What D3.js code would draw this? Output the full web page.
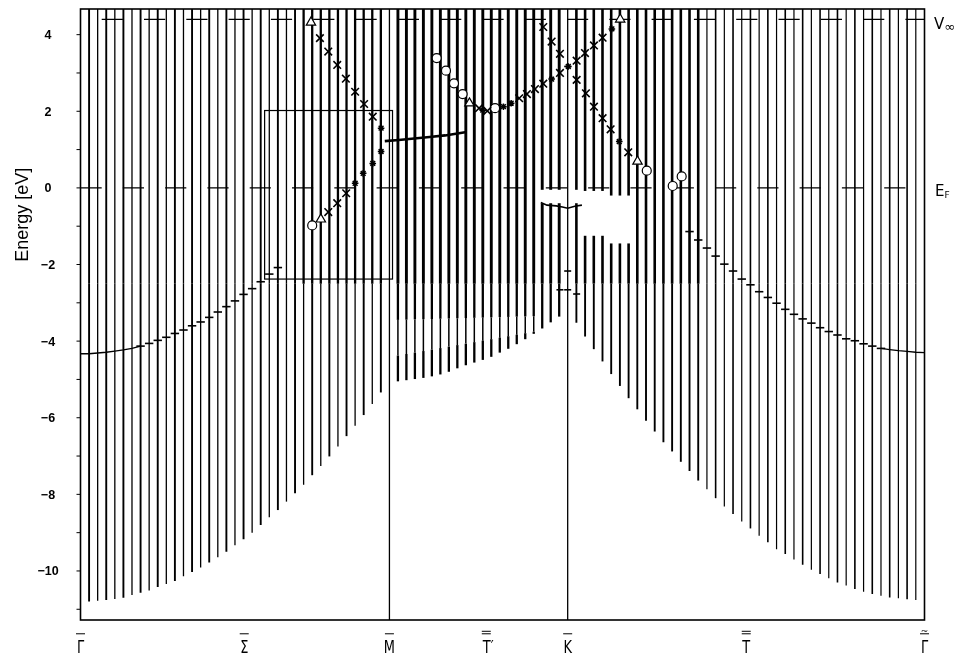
<!DOCTYPE html>
<html><head><meta charset="utf-8">
<script src="https://cdn.jsdelivr.net/npm/d3@7"></script>
<style>body{margin:0;background:#fff}svg{display:block;filter:grayscale(100%)}text{fill:#000}</style>
</head><body><svg id="c" width="969" height="658"></svg>
<script>
// ---------------- data ----------------
const yTicks = [4, 2, 0, -2, -4, -6, -8, -10];
const pathLabels = ["Γ", "Σ", "M", "T′", "K", "T", "Γ"];
const pathLabelK = [0, 0.53, 1, 1.32, 1.577, 2.155, 2.732];
const labelBars = [1, 1, 1, 2, 1, 2, 1];
const labelTilde = [0, 0, 0, 0, 0, 0, 1];
const segEnds = [0, 1, 1.577, 2.732];           // Γ, M, K, Γ~ along path
const EF = 0, Vinf = 4.4;

// lower edge of projected bulk bands at interior k-points of each segment
const bottomGM = [-10.80,-10.78,-10.76,-10.73,-10.70,-10.63,-10.57,-10.51,-10.42,-10.34,-10.26,-10.14,-10.03,-9.91,-9.78,-9.64,-9.50,-9.33,-9.17,-9.00,-8.80,-8.60,-8.41,-8.19,-7.97,-7.75,-7.50,-7.26,-7.01,-6.75,-6.48,-6.21,-5.93,-5.64,-5.34];
const bottomMK = [-5.05,-5.02,-4.99,-4.96,-4.92,-4.87,-4.80,-4.71,-4.63,-4.56,-4.49,-4.41,-4.30,-4.20,-4.08,-3.95,-3.81,-3.67,-3.51,-3.36];
const bottomKG = [-3.52,-3.88,-4.21,-4.53,-4.86,-5.17,-5.49,-5.78,-6.08,-6.36,-6.64,-6.88,-7.15,-7.39,-7.64,-7.87,-8.10,-8.32,-8.51,-8.71,-8.89,-9.08,-9.25,-9.43,-9.56,-9.70,-9.84,-9.97,-10.08,-10.19,-10.30,-10.38,-10.47,-10.54,-10.60,-10.65,-10.69,-10.71,-10.74,-10.76];

// band gaps inside the projected continuum: [k0, k1, Elow@k0, Ehigh@k0, Elow@k1, Ehigh@k1]
const gaps = [
  [1.63, 1.70, -1.25, -0.08, -1.25, -0.08],
  [1.70, 1.80, -1.45, -0.20, -1.45, -0.20],
  [1.49, 1.57, -0.40, -0.05, -0.40, -0.05],
  [1.585, 1.625, -0.40, -0.05, -0.40, -0.05]
];
// low-density zones (single thin band only)
const sparse = [
  [1.01, 1.47, -4.40, -3.45, -3.75, -3.35]
];

// calculated surface states (Γ-M side, index along Γ-M k-points)
const ssLeftIdx = [0,1,2,3,4,5,6,7,8,9,10,11,12,13,14,15,16,17,18,19,20,21,22,23];
const ssLeftE   = [-4.33,-4.33,-4.31,-4.29,-4.26,-4.23,-4.19,-4.13,-4.06,-3.98,-3.90,-3.80,-3.71,-3.60,-3.50,-3.38,-3.24,-3.10,-2.95,-2.78,-2.63,-2.45,-2.25,-2.08];
// K-Γ side (index along K-Γ k-points, 41 = Γ~)
const ssRightIdx = [14,15,16,17,18,19,20,21,22,23,24,25,26,27,28,29,30,31,32,33,34,35,36,37,38,39,40,41];
const ssRightE   = [-1.14,-1.36,-1.57,-1.78,-1.99,-2.17,-2.38,-2.53,-2.71,-2.86,-3.01,-3.17,-3.30,-3.42,-3.53,-3.65,-3.75,-3.84,-3.94,-3.99,-4.07,-4.13,-4.19,-4.22,-4.25,-4.27,-4.29,-4.30];
// unoccupied state near M
const ssMK = [0.985, 1.03, 1.08, 1.13, 1.18, 1.22, 1.25];
const ssME = [1.22, 1.25, 1.29, 1.33, 1.37, 1.42, 1.46];
// occupied state near K
const ssKK = [1.49, 1.51, 1.54, 1.56, 1.577, 1.60, 1.623];
const ssKE = [-0.38, -0.45, -0.47, -0.50, -0.53, -0.48, -0.45];
// isolated state marks near K
const markK = [1.552, 1.577, 1.577, 1.606, 1.577];
const markE = [-2.66, -2.66, -2.17, -2.77, 3.17];

// experimental points
const triK = [0.746, 0.778, 1.259, 1.747, 1.803];
const triE = [4.32, -0.82, 2.21, 4.40, 0.69];
const crossK = [0.775, 0.802, 0.831, 0.859, 0.889, 0.918, 0.946, 0.860, 0.831, 0.802,
                1.290, 1.317, 1.420, 1.445, 1.471, 1.498, 1.552, 1.606, 1.633, 1.662, 1.690,
                1.498, 1.525, 1.552, 1.606, 1.636, 1.662, 1.690, 1.716, 1.773];
const crossE = [3.91, 3.56, 3.21, 2.85, 2.51, 2.19, 1.86, -0.14, -0.40, -0.63,
                2.08, 2.01, 2.34, 2.45, 2.58, 2.72, 3.00, 3.32, 3.52, 3.72, 3.92,
                4.20, 3.82, 3.50, 2.82, 2.47, 2.12, 1.82, 1.53, 0.93];
const starK = [0.973, 0.973, 0.946, 0.915, 0.889, 1.302, 1.369, 1.394, 1.525, 1.579, 1.720, 1.744];
const starE = [1.56, 0.95, 0.64, 0.38, 0.12, 2.03, 2.12, 2.21, 2.84, 3.17, 4.15, 1.21];
const circK = [0.750, 1.153, 1.183, 1.209, 1.237, 1.342, 1.833, 1.917, 1.946];
const circE = [-0.98, 3.39, 3.06, 2.73, 2.45, 2.08, 0.45, 0.05, 0.30];

// inset box (k, E)
const boxK = [0.596, 1.010];
const boxE = [-2.38, 2.02];

// ---------------- drawing ----------------
const svg = d3.select("#c");
const x = d3.scaleLinear().domain([0, 2.732]).range([80.5, 924.5]);
const y = d3.scaleLinear().domain([4.67, -11.28]).range([9, 620]);
const yTop = 4.67, yBot = -11.28;

const kpts = [];
[[bottomGM, 0], [bottomMK, 1], [bottomKG, 2]].forEach(([arr, s]) => {
  const a = segEnds[s], b = segEnds[s + 1], n = arr.length + 1;
  arr.forEach((e, i) => kpts.push({k: a + (i + 1) * (b - a) / n, lo: e, seg: s, i: i + 1}));
});
function kOf(seg, idx) {
  const arr = [bottomGM, bottomMK, bottomKG][seg];
  return segEnds[seg] + idx * (segEnds[seg + 1] - segEnds[seg]) / (arr.length + 1);
}
function widthFor(p, upper) {
  if (p.seg === 0) {
    if (p.k > 0.72 && upper) return 2.3;
    return p.i % 2 ? 1.9 : 1.3;
  }
  if (p.seg === 1) return upper ? 2.9 : 2.3;
  if (p.k < 2.0) return upper ? 2.6 : 1.9;
  return p.i % 2 ? 1.6 : 1.2;
}
function zoneAt(z, k) {
  const [k0, k1, a0, b0, a1, b1] = z;
  if (k < k0 || k > k1) return null;
  const f = (k - k0) / (k1 - k0);
  return [a0 + f * (a1 - a0), b0 + f * (b1 - b0)];
}
function splitBy(cuts, e0, e1, tag) {
  const nc = [];
  cuts.forEach(([a, b, t]) => {
    if (e1 <= a || e0 >= b) { nc.push([a, b, t]); return; }
    if (e0 > a) nc.push([a, e0, t]);
    if (tag) nc.push([Math.max(a, e0), Math.min(b, e1), tag]);
    if (e1 < b) nc.push([e1, b, t]);
  });
  return nc;
}

const g = svg.append("g");
kpts.forEach(p => {
  let cuts = p.lo >= -2.5 ? [[p.lo, yTop, "up"]] : [[p.lo, -2.5, "lo"], [-2.5, yTop, "up"]];
  gaps.forEach(z => { const r = zoneAt(z, p.k); if (r) cuts = splitBy(cuts, r[0], r[1], null); });
  sparse.forEach(z => { const r = zoneAt(z, p.k); if (r) cuts = splitBy(cuts, r[0], r[1], "thin"); });
  cuts.forEach(([a, b, t]) => {
    g.append("line").attr("x1", x(p.k)).attr("x2", x(p.k))
      .attr("y1", y(a)).attr("y2", y(b))
      .attr("stroke", "#000").attr("stroke-width", t === "thin" ? 1.5 : widthFor(p, t === "up"));
  });
});

[segEnds[1], segEnds[2]].forEach(k => {
  svg.append("line").attr("x1", x(k)).attr("x2", x(k)).attr("y1", y(yTop)).attr("y2", y(yBot))
    .attr("stroke", "#000").attr("stroke-width", 1.3);
});

svg.append("line").attr("x1", x(0)).attr("x2", x(2.732)).attr("y1", y(EF)).attr("y2", y(EF))
  .attr("stroke", "#000").attr("stroke-width", 1.1).attr("stroke-dasharray", "21.2,21.1");
svg.append("line").attr("x1", x(0)).attr("x2", x(2.732)).attr("y1", y(Vinf)).attr("y2", y(Vinf))
  .attr("stroke", "#000").attr("stroke-width", 1.4).attr("stroke-dasharray", "21.2,21.1")
  .attr("stroke-dashoffset", -21.2);

const ssL = ssLeftIdx.map((ix, j) => ({k: kOf(0, ix), e: ssLeftE[j], ix}));
const ssR = ssRightIdx.map((ix, j) => ({k: kOf(2, ix), e: ssRightE[j], ix}));
const lineGen = d3.line().x(d => x(d.k)).y(d => y(d.e));
svg.append("path").datum(ssL.filter(d => d.ix <= 7)).attr("d", lineGen)
  .attr("fill", "none").attr("stroke", "#000").attr("stroke-width", 1.3);
svg.append("path").datum(ssR.filter(d => d.ix >= 36)).attr("d", lineGen)
  .attr("fill", "none").attr("stroke", "#000").attr("stroke-width", 1.3);
[...ssL.filter(d => d.ix >= 7), ...ssR.filter(d => d.ix <= 36)].forEach(d => {
  svg.append("line").attr("x1", x(d.k) - 4.2).attr("x2", x(d.k) + 4.2)
    .attr("y1", y(d.e)).attr("y2", y(d.e)).attr("stroke", "#000").attr("stroke-width", 1.6);
});
svg.append("path").datum(ssMK.map((k, j) => ({k, e: ssME[j]}))).attr("d", lineGen)
  .attr("fill", "none").attr("stroke", "#000").attr("stroke-width", 2.6);
svg.append("path").datum(ssKK.map((k, j) => ({k, e: ssKE[j]}))).attr("d", lineGen)
  .attr("fill", "none").attr("stroke", "#000").attr("stroke-width", 1.6);
markK.forEach((k, j) => {
  svg.append("line").attr("x1", x(k) - 3.5).attr("x2", x(k) + 3.5)
    .attr("y1", y(markE[j])).attr("y2", y(markE[j])).attr("stroke", "#000").attr("stroke-width", 1.6);
});

svg.append("rect").attr("x", x(boxK[0])).attr("y", y(boxE[1]))
  .attr("width", x(boxK[1]) - x(boxK[0])).attr("height", y(boxE[0]) - y(boxE[1]))
  .attr("fill", "none").attr("stroke", "#000").attr("stroke-width", 1.2);

const mk = svg.append("g");
triK.forEach((k, j) => {
  mk.append("path").attr("d", d3.symbol().type(d3.symbolTriangle).size(38)())
    .attr("transform", `translate(${x(k)},${y(triE[j])})`)
    .attr("fill", "#fff").attr("stroke", "#000").attr("stroke-width", 1.2);
});
circK.forEach((k, j) => {
  mk.append("circle").attr("cx", x(k)).attr("cy", y(circE[j])).attr("r", 4.5)
    .attr("fill", "#fff").attr("stroke", "#000").attr("stroke-width", 1.2);
});
crossK.forEach((k, j) => {
  const cx = x(k), cy = y(crossE[j]), s = 3.8;
  mk.append("path").attr("d", `M${cx - s},${cy - s}L${cx + s},${cy + s}M${cx - s},${cy + s}L${cx + s},${cy - s}`)
    .attr("stroke", "#000").attr("stroke-width", 1.6).attr("fill", "none");
});
starK.forEach((k, j) => {
  const cx = x(k), cy = y(starE[j]), s = 3.3, t = 2.4;
  mk.append("path").attr("d", `M${cx},${cy - s}L${cx},${cy + s}M${cx - s},${cy}L${cx + s},${cy}M${cx - t},${cy - t}L${cx + t},${cy + t}M${cx - t},${cy + t}L${cx + t},${cy - t}`)
    .attr("stroke", "#000").attr("stroke-width", 1.5).attr("fill", "none");
});

svg.append("rect").attr("x", x(0)).attr("y", y(yTop)).attr("width", x(2.732) - x(0))
  .attr("height", y(yBot) - y(yTop)).attr("fill", "none").attr("stroke", "#000").attr("stroke-width", 1.6);

d3.range(-11, 5).forEach(v => {
  svg.append("line").attr("x1", x(0) - 4).attr("x2", x(0)).attr("y1", y(v)).attr("y2", y(v))
    .attr("stroke", "#000").attr("stroke-width", 1);
});
yTicks.forEach(v => {
  svg.append("text").attr("x", 48).attr("y", y(v)).attr("dy", "0.36em")
    .attr("text-anchor", "middle").attr("font-family", "Liberation Sans, Arial, sans-serif")
    .attr("font-size", 12.5).attr("font-weight", "bold").attr("fill", "#000").text(v < 0 ? "\u2212" + (-v) : v);
});
svg.append("text").attr("transform", `translate(28,${y(-0.7)}) rotate(-90)`)
  .attr("text-anchor", "middle").attr("font-family", "Liberation Sans, Arial, sans-serif")
  .attr("font-size", 18).attr("fill", "#000").text("Energy [eV]");

pathLabels.forEach((lab, j) => {
  const cx = x(pathLabelK[j]);
  const t = svg.append("text").attr("x", cx).attr("y", 653).attr("text-anchor", "middle")
    .attr("font-family", "DejaVu Sans, sans-serif").attr("fill", "#000")
    .attr("font-size", 18).attr("transform", `translate(${cx},0) scale(0.72,1) translate(${-cx},0)`).text(lab);
  const bb = t.node().getBBox();
  const top = bb.y + 1;
  const barW = 9;
  const off = lab.length > 1 ? -2 : 0;
  for (let b = 0; b < labelBars[j]; b++) {
    svg.append("line").attr("x1", cx - barW / 2 + off).attr("x2", cx + barW / 2 + off)
      .attr("y1", top - 3 - b * 2.5).attr("y2", top - 3 - b * 2.5).attr("stroke", "#000").attr("stroke-width", 1);
  }
  if (labelTilde[j]) {
    svg.append("text").attr("x", cx).attr("y", top - 3).attr("text-anchor", "middle").attr("fill", "#000")
      .attr("font-family", "DejaVu Sans, sans-serif").attr("font-size", 9).text("~");
  }
});

const rl = svg.append("text").attr("x", 934).attr("y", y(Vinf) + 10).attr("fill", "#000")
  .attr("font-family", "DejaVu Sans, sans-serif").attr("font-size", 15);
rl.append("tspan").text("V");
rl.append("tspan").attr("font-size", 13).attr("dy", 2).text("∞");
const ef = svg.append("text").attr("x", 935).attr("y", y(EF) + 8).attr("fill", "#000")
  .attr("font-family", "DejaVu Sans, sans-serif").attr("font-size", 15);
ef.append("tspan").text("E");
ef.append("tspan").attr("font-size", 9).attr("dy", 2).text("F");
</script></body></html>
